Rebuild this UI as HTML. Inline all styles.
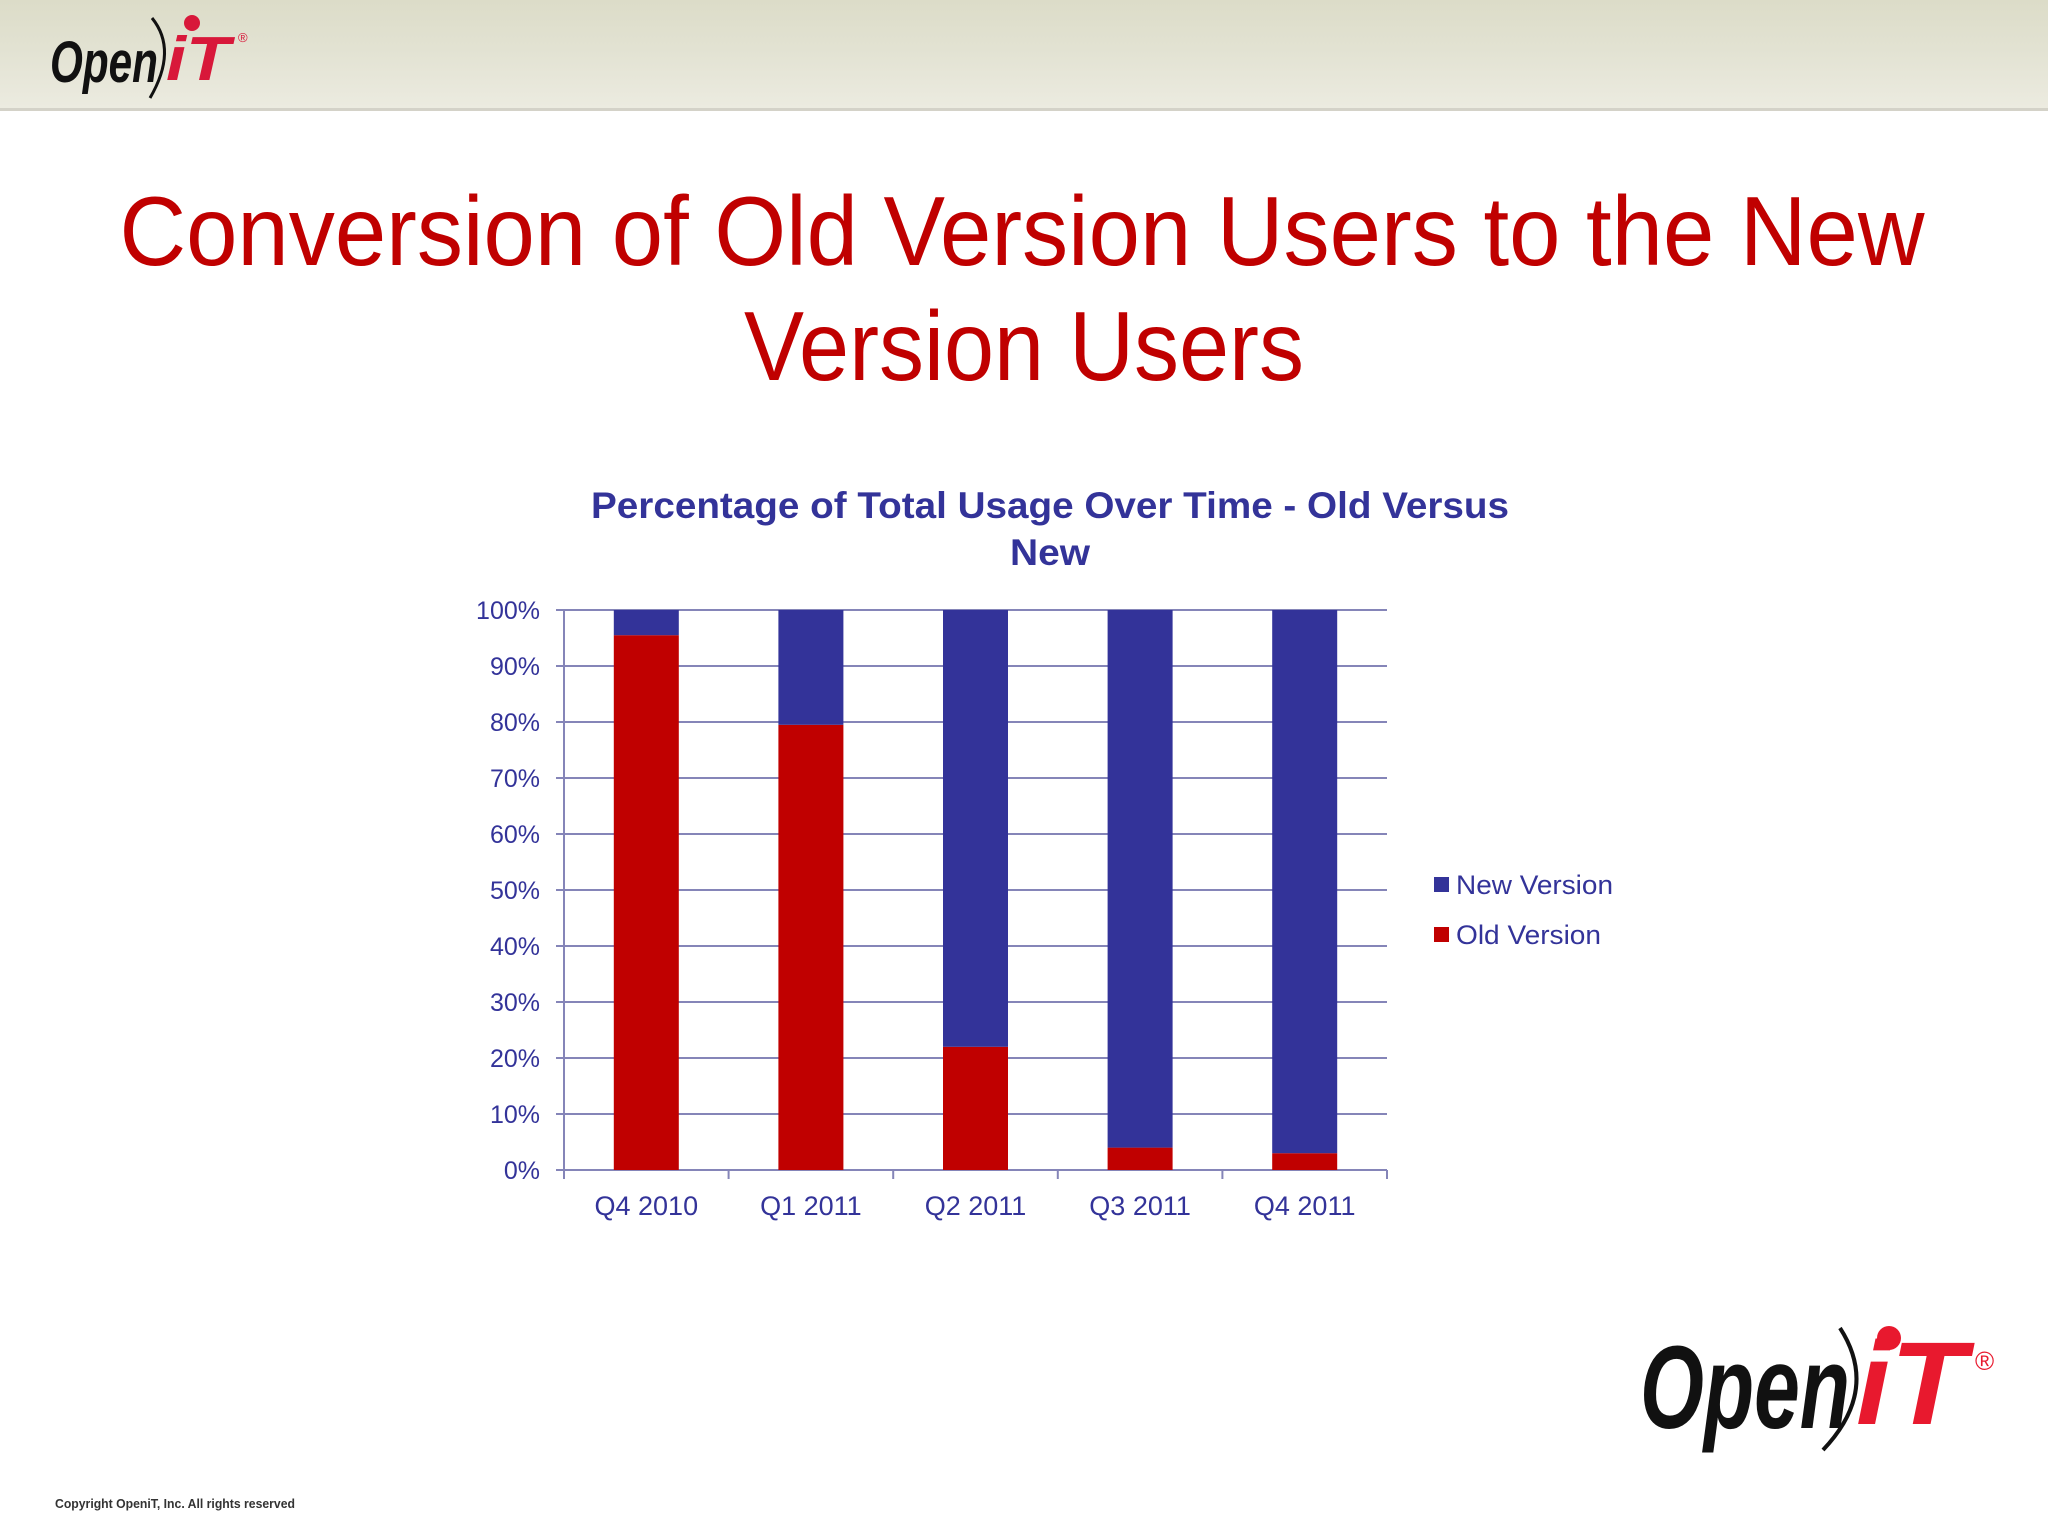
<!DOCTYPE html>
<html><head><meta charset="utf-8"><style>
html,body{margin:0;padding:0;background:#fff}
svg{display:block}
</style></head><body>
<svg id="slide" width="2048" height="1536" viewBox="0 0 2048 1536" xmlns="http://www.w3.org/2000/svg" font-family="Liberation Sans, DejaVu Sans, sans-serif">
<defs>
<linearGradient id="hdr" x1="0" y1="0" x2="0" y2="1">
<stop offset="0" stop-color="#dcdcc8"/><stop offset="0.45" stop-color="#e2e2d2"/><stop offset="1" stop-color="#ecebe0"/>
</linearGradient>
</defs>
<rect x="0" y="0" width="2048" height="108" fill="url(#hdr)"/>
<rect x="0" y="108" width="2048" height="3" fill="#d4d2c8"/>
<g>
<text x="50" y="82" font-size="58" font-weight="bold" font-style="italic" fill="#111" textLength="108" lengthAdjust="spacingAndGlyphs">Open</text>
<path d="M152 18 Q178 50 150 98" stroke="#111" stroke-width="3" fill="none"/>
<text x="166" y="80" font-size="62" font-weight="bold" font-style="italic" fill="#d8183a" textLength="64" lengthAdjust="spacingAndGlyphs">iT</text>
<circle cx="192" cy="23" r="8" fill="#d8183a"/>
<text x="238" y="42" font-size="13" fill="#d8183a">®</text>
</g>
<g fill="#c00000" font-size="98" text-anchor="middle">
<text x="1022" y="265" textLength="1805" lengthAdjust="spacingAndGlyphs">Conversion of Old Version Users to the New</text>
<text x="1024" y="380" textLength="560" lengthAdjust="spacingAndGlyphs">Version Users</text>
</g>
<g fill="#333399" font-size="37" font-weight="bold" text-anchor="middle">
<text x="1050" y="518" textLength="918" lengthAdjust="spacingAndGlyphs">Percentage of Total Usage Over Time - Old Versus</text>
<text x="1050" y="565" textLength="80" lengthAdjust="spacingAndGlyphs">New</text>
</g>
<g id="chart"></g>
<g font-size="27" fill="#333399">
<g><rect x="1434" y="877" width="15" height="15" fill="#333399"/><text x="1456" y="894" textLength="157" lengthAdjust="spacingAndGlyphs">New Version</text></g>
<g><rect x="1434" y="927" width="15" height="15" fill="#c00000"/><text x="1456" y="944" textLength="145" lengthAdjust="spacingAndGlyphs">Old Version</text></g>
</g>
<g>
<text x="1640" y="1428" font-size="118" font-weight="bold" font-style="italic" fill="#111" textLength="210" lengthAdjust="spacingAndGlyphs">Open</text>
<path d="M1840 1328 Q1880 1390 1823 1450" stroke="#111" stroke-width="4" fill="none"/>
<text x="1856" y="1424" font-size="118" font-weight="bold" font-style="italic" fill="#e8192e" textLength="110" lengthAdjust="spacingAndGlyphs">iT</text>
<circle cx="1889" cy="1338" r="12" fill="#e8192e"/>
<text x="1975" y="1370" font-size="26" fill="#e8192e">®</text>
</g>
<text x="55" y="1508" font-size="13" font-weight="bold" fill="#333" textLength="240" lengthAdjust="spacingAndGlyphs">Copyright OpeniT, Inc. All rights reserved</text>
</svg>
<script>
const categories = ["Q4 2010","Q1 2011","Q2 2011","Q3 2011","Q4 2011"];
const oldVersion = [95.5, 79.5, 22, 4, 3];
const newVersion = [4.5, 20.5, 78, 96, 97];
const yTicks = [0,10,20,30,40,50,60,70,80,90,100];
const NS = "http://www.w3.org/2000/svg";
const g = document.getElementById('chart');
const L=564, R=1387, T=610, B=1170;
const step=(R-L)/categories.length, bw=65;
const y=v=>B-(v/100)*(B-T);
const x=i=>L+i*step+(step-bw)/2;
function mk(t,a){const e=document.createElementNS(NS,t);for(const k in a)e.setAttribute(k,a[k]);g.appendChild(e);return e;}
yTicks.forEach(v=>{
  const ln=mk('line',{x1:L-8,x2:R,y1:y(v),y2:y(v),stroke:'#8585b8','stroke-width':2});
  
  
  const t=mk('text',{x:540,y:y(v)+9,'text-anchor':'end','font-size':25,fill:'#333399'});
  
  
  t.textContent=v+'%';
});
mk('line',{x1:L,x2:L,y1:T,y2:B+8,stroke:'#8585b8','stroke-width':2});
for(let i=0;i<=categories.length;i++){mk('line',{x1:L+i*step,x2:L+i*step,y1:B,y2:B+9,stroke:'#8585b8','stroke-width':2});}
categories.forEach((c,i)=>{
  const o=mk('rect',{x:x(i),y:y(oldVersion[i]),width:bw,height:B-y(oldVersion[i]),fill:'#c00000'});
  
  
  const top=oldVersion[i]+newVersion[i];
  const n=mk('rect',{x:x(i),y:y(top),width:bw,height:y(oldVersion[i])-y(top),fill:'#333399'});
  
  
  const t=mk('text',{x:L+i*step+step/2,y:1215,'text-anchor':'middle','font-size':27,fill:'#333399'});
  
  
  t.textContent=c;
});
</script>
</body></html>
